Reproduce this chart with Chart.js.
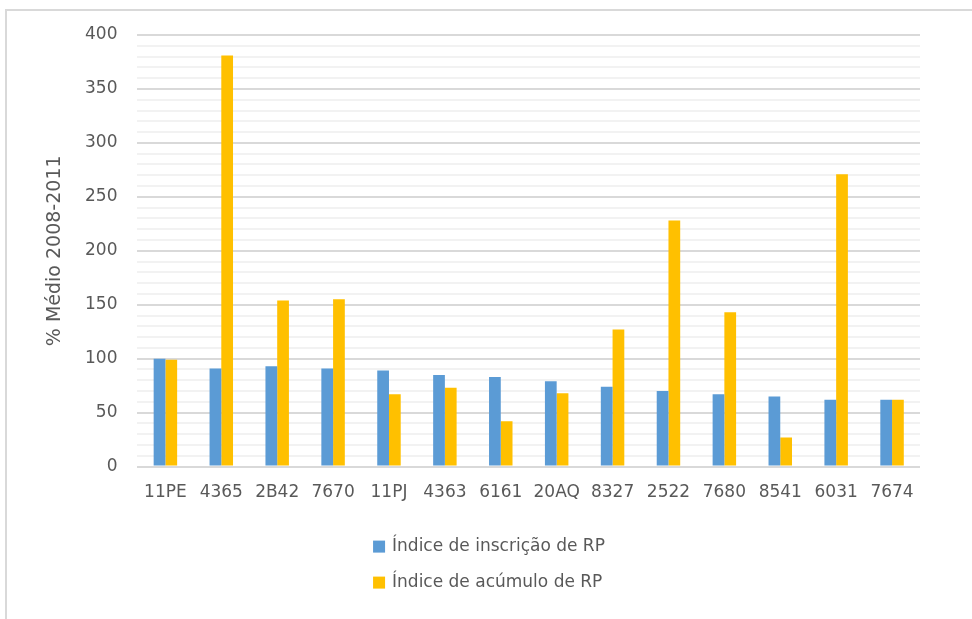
<!DOCTYPE html>
<html>
<head>
<meta charset="utf-8">
<script src="https://cdn.jsdelivr.net/npm/chart.js@4"></script>
<style>
  html, body { margin: 0; padding: 0; background: #fff; overflow: hidden; }
  canvas { display: block; }
</style>
</head>
<body>
<canvas id="c" width="972" height="619"></canvas>
<script>
const categories = ["11PE", "4365", "2B42", "7670", "11PJ", "4363", "6161", "20AQ", "8327", "2522", "7680", "8541", "6031", "7674"];
const inscricao = [100, 91, 93, 91, 89, 85, 83, 79, 74, 70, 67, 65, 62, 62];
const acumulo = [99, 381, 154, 155, 67, 73, 42, 68, 127, 228, 143, 27, 271, 62];
const seriesNames = ["Índice de inscrição de RP", "Índice de acúmulo de RP"];
const yAxisTitle = "% Médio 2008-2011";

const FONT = "'DejaVu Sans', sans-serif";
const GREY = "#595959";

// Light frame on the left and top edges (chart border, cropped on the right/bottom)
const frame = {
  id: "frame",
  beforeDraw(chart) {
    const ctx = chart.ctx;
    ctx.save();
    ctx.strokeStyle = "#d9d9d9";
    ctx.lineWidth = 2;
    ctx.beginPath();
    ctx.moveTo(6, chart.height);
    ctx.lineTo(6, 10);
    ctx.lineTo(chart.width, 10);
    ctx.stroke();
    ctx.restore();
  }
};

// Vertical legend (one entry per line, like the reference)
const verticalLegend = {
  id: "verticalLegend",
  afterDraw(chart) {
    const ctx = chart.ctx;
    const ca = chart.chartArea;
    const size = 17;
    ctx.save();
    ctx.font = size + "px " + FONT;
    ctx.textBaseline = "middle";
    ctx.textAlign = "left";
    const box = 12, gap = 7, rowH = 36;
    const widths = chart.data.datasets.map(d => box + gap + ctx.measureText(d.label).width);
    const blockW = Math.max(...widths);
    const left = chart.width / 2 - blockW / 2 + 3;
    const top = ca.bottom + 80;
    chart.data.datasets.forEach((d, i) => {
      const y = top + i * rowH;
      ctx.fillStyle = d.backgroundColor;
      ctx.fillRect(left, y - box / 2, box, box);
      ctx.fillStyle = GREY;
      ctx.fillText(d.label, left + box + gap, y);
    });
    ctx.restore();
  }
};

new Chart(document.getElementById("c"), {
  type: "bar",
  data: {
    labels: categories,
    datasets: [
      { label: seriesNames[0], data: inscricao, backgroundColor: "#5B9BD5", barPercentage: 1.0, categoryPercentage: 0.42 },
      { label: seriesNames[1], data: acumulo, backgroundColor: "#FFC000", barPercentage: 1.0, categoryPercentage: 0.42 }
    ]
  },
  plugins: [frame, verticalLegend],
  options: {
    responsive: false,
    animation: false,
    layout: { padding: { left: 46, right: 52, top: 35, bottom: 100 } },
    plugins: {
      tooltip: { enabled: false },
      legend: { display: false }
    },
    scales: {
      x: {
        grid: { display: false, drawTicks: false },
        border: { display: false },
        ticks: { font: { family: FONT, size: 17 }, color: GREY, padding: 16, maxRotation: 0, autoSkip: false }
      },
      y: {
        min: 0,
        max: 400,
        border: { display: false },
        grid: {
          drawTicks: false,
          lineWidth: 2,
          color: (ctx) => {
            const v = ctx.tick ? ctx.tick.value : 0;
            return v % 50 === 0 ? "#d9d9d9" : "#f2f2f2";
          }
        },
        ticks: {
          stepSize: 10,
          autoSkip: false,
          padding: 20,
          font: { family: FONT, size: 17 },
          color: GREY,
          callback: (v) => (v % 50 === 0 ? v : "")
        },
        title: {
          display: true,
          text: yAxisTitle,
          font: { family: FONT, size: 19, lineHeight: 1 },
          color: GREY,
          padding: { top: 0, bottom: 0 }
        }
      }
    }
  }
});
</script>
</body>
</html>
